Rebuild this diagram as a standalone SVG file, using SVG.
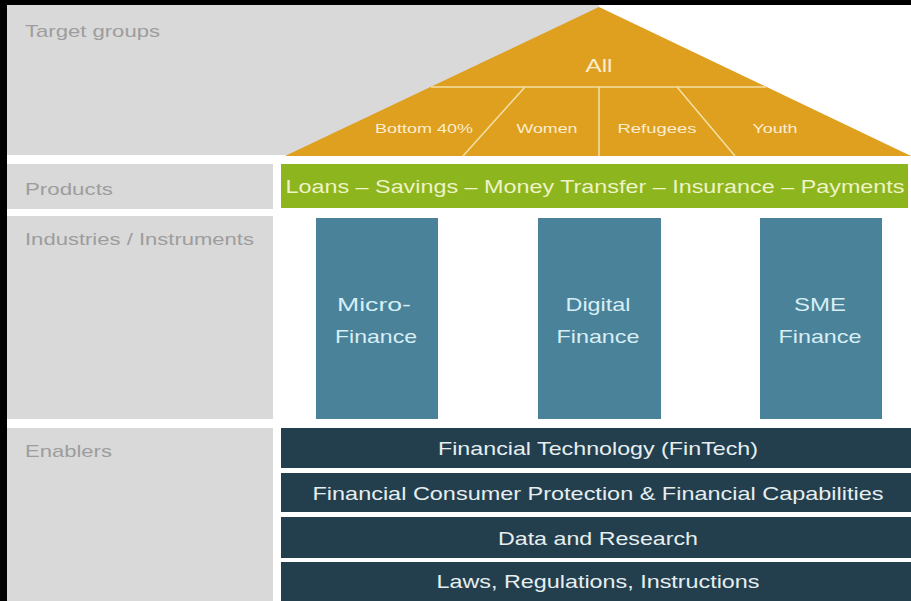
<svg xmlns="http://www.w3.org/2000/svg" width="911" height="601" viewBox="0 0 911 601">
<defs>
<style>
text{font-family:"Liberation Sans",Arial,sans-serif}
.lbl{font-size:17px;fill:#9d9d9d}
.band{fill:#d9d9d9}
.tri{font-size:13px;fill:#fbeecf;text-anchor:middle}
.pill{fill:#4a8299}
.pt{font-size:19px;fill:#d8eef5;text-anchor:middle}
.en{fill:#233f4e}
.et{font-size:19px;fill:#e6eef0;text-anchor:middle}
.sep{stroke:#f3e1a8;stroke-width:1.5;fill:none}
</style>
</defs>
<rect x="0" y="0" width="911" height="601" fill="#ffffff"/>
<rect x="0" y="0" width="911" height="5" fill="#000"/>
<rect x="0" y="0" width="7" height="601" fill="#000"/>

<g id="label-target">
<rect class="band" x="7" y="5" width="592" height="150"/>
<text class="lbl" x="25" y="37" textLength="135" lengthAdjust="spacingAndGlyphs">Target groups</text>
</g>
<g id="label-products">
<rect class="band" x="7" y="164" width="266" height="45"/>
<text class="lbl" x="25" y="195" textLength="88" lengthAdjust="spacingAndGlyphs">Products</text>
</g>
<g id="label-industries">
<rect class="band" x="7" y="216" width="266" height="203"/>
<text class="lbl" x="25" y="245" textLength="229" lengthAdjust="spacingAndGlyphs">Industries / Instruments</text>
</g>
<g id="label-enablers">
<rect class="band" x="7" y="428" width="266" height="173"/>
<text class="lbl" x="25" y="457" textLength="87" lengthAdjust="spacingAndGlyphs">Enablers</text>
</g>

<g id="roof">
<polygon points="599,7 911,156 285,156" fill="#df9f1f"/>
<line class="sep" x1="431" y1="87" x2="766" y2="87"/>
<line class="sep" x1="599" y1="87" x2="599" y2="156"/>
<line class="sep" x1="525" y1="87" x2="463" y2="156"/>
<line class="sep" x1="677" y1="87" x2="735" y2="156"/>
<text x="599" y="72" font-size="18" fill="#fbeecf" text-anchor="middle" textLength="27" lengthAdjust="spacingAndGlyphs">All</text>
<text class="tri" x="424" y="133" textLength="98" lengthAdjust="spacingAndGlyphs">Bottom 40%</text>
<text class="tri" x="547" y="133" textLength="61" lengthAdjust="spacingAndGlyphs">Women</text>
<text class="tri" x="657" y="133" textLength="79" lengthAdjust="spacingAndGlyphs">Refugees</text>
<text class="tri" x="775" y="133" textLength="45" lengthAdjust="spacingAndGlyphs">Youth</text>
</g>

<g id="products">
<rect x="281" y="164" width="627" height="44" fill="#8db51e"/>
<text x="595" y="193" font-size="17.5" fill="#eef3c8" text-anchor="middle" textLength="619" lengthAdjust="spacingAndGlyphs">Loans – Savings – Money Transfer – Insurance – Payments</text>
</g>

<g id="microfinance">
<rect class="pill" x="316" y="218" width="122" height="201"/>
<text class="pt" x="374" y="311" textLength="74" lengthAdjust="spacingAndGlyphs">Micro-</text>
<text class="pt" x="376" y="343" textLength="82" lengthAdjust="spacingAndGlyphs">Finance</text>
</g>
<g id="digitalfinance">
<rect class="pill" x="538" y="218" width="123" height="201"/>
<text class="pt" x="598" y="311" textLength="65" lengthAdjust="spacingAndGlyphs">Digital</text>
<text class="pt" x="598" y="343" textLength="83" lengthAdjust="spacingAndGlyphs">Finance</text>
</g>
<g id="smefinance">
<rect class="pill" x="760" y="218" width="122" height="201"/>
<text class="pt" x="820" y="311" textLength="52" lengthAdjust="spacingAndGlyphs">SME</text>
<text class="pt" x="820" y="343" textLength="83" lengthAdjust="spacingAndGlyphs">Finance</text>
</g>

<g id="fintech">
<rect class="en" x="281" y="428" width="630" height="40"/>
<text class="et" x="598" y="455" textLength="320" lengthAdjust="spacingAndGlyphs">Financial Technology (FinTech)</text>
</g>
<g id="consumer-protection">
<rect class="en" x="281" y="473" width="630" height="39"/>
<text class="et" x="598" y="500" textLength="571" lengthAdjust="spacingAndGlyphs">Financial Consumer Protection &amp; Financial Capabilities</text>
</g>
<g id="data-research">
<rect class="en" x="281" y="517" width="630" height="41"/>
<text class="et" x="598" y="545" textLength="200" lengthAdjust="spacingAndGlyphs">Data and Research</text>
</g>
<g id="laws">
<rect class="en" x="281" y="562" width="630" height="39"/>
<text class="et" x="598" y="588" textLength="323" lengthAdjust="spacingAndGlyphs">Laws, Regulations, Instructions</text>
</g>
<g id="connectors"></g>
</svg>
